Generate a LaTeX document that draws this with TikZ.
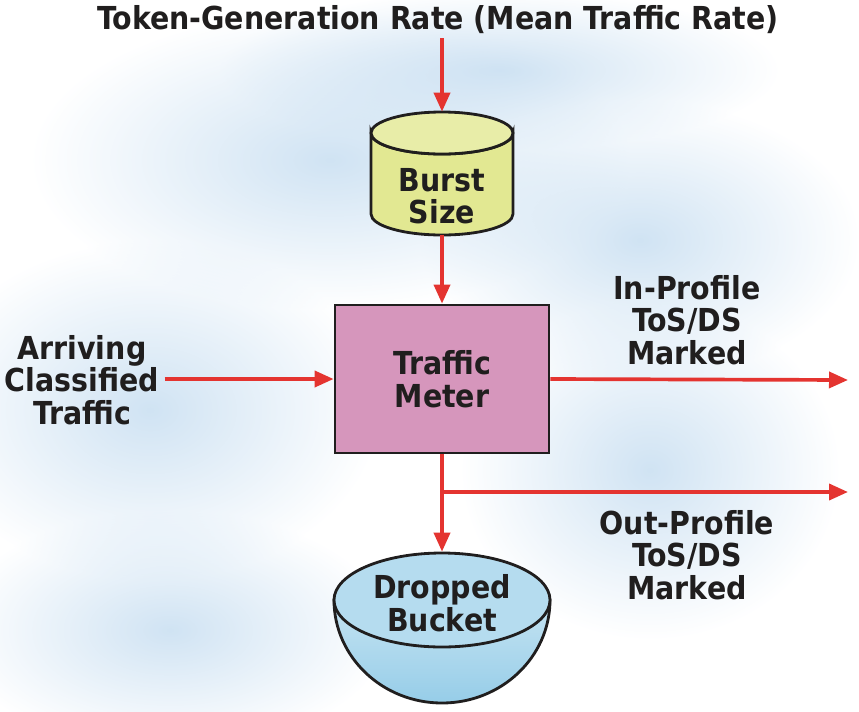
\documentclass[tikz,border=0pt]{standalone}
\usepackage{fontspec}
\setmainfont{DejaVu Sans Condensed}
\usetikzlibrary{arrows.meta, positioning, fadings}

\definecolor{flowred}{RGB}{228,52,48}
\definecolor{burstfill}{RGB}{226,232,146}
\definecolor{meterfill}{RGB}{214,150,188}
\definecolor{bucketfill}{RGB}{150,205,232}
\definecolor{haze}{RGB}{196,220,240}
\definecolor{ink}{RGB}{32,30,30}

\tikzfading[name=softblob, inner color=transparent!0, outer color=transparent!100]

\tikzset{
  flow/.style={draw=flowred, line width=2.1pt, -{Triangle[length=0.38cm, width=0.32cm]}},
  lbl/.style={font=\bfseries\fontsize{18}{18.5}\selectfont, align=center, text=ink, inner sep=0pt},
  outline/.style={draw=ink, line width=1.6pt},
  haziness/.style={fill=haze, opacity=0.8, path fading=softblob}
}

\begin{document}
\begin{tikzpicture}[x=0.02cm, y=0.02cm, yscale=-1]
  \useasboundingbox (0,0) rectangle (859,711);

  % cloudy backdrop
  \fill[haziness] (330,160) ellipse (300 and 150);
  \fill[haziness] (640,240) ellipse (220 and 140);
  \fill[haziness] (150,410) ellipse (230 and 170);
  \fill[haziness] (650,470) ellipse (190 and 170);
  \fill[haziness] (170,630) ellipse (220 and 120);
  \fill[haziness] (500,70) ellipse (280 and 80);

  % burst size bucket (cylinder)
  \filldraw[outline, fill=burstfill] (371,133) -- (371,214)
    arc[start angle=180, end angle=0, x radius=71, y radius=21] -- (513,133)
    arc[start angle=0, end angle=180, x radius=71, y radius=21] -- cycle;
  \filldraw[outline, fill=burstfill!80!white] (442,133) ellipse (71 and 21);
  \node[minimum width=2.84cm, minimum height=2.46cm, inner sep=0pt] (burst) at (442,173.5) {};
  \node[lbl] (burstlbl) at (442,196) {Burst\\Size};

  % dropped bucket (bowl)
  \filldraw[outline, top color=bucketfill!55!white, bottom color=bucketfill] (334,600)
    arc[start angle=180, end angle=0, x radius=108, y radius=103] -- cycle;
  \filldraw[outline, fill=bucketfill!70!white] (442,600) ellipse (108 and 47);
  \node[minimum width=4.32cm, minimum height=3.02cm, inner sep=0pt] (bucket) at (442,627.5) {};
  \node[lbl] (bucketlbl) at (442,603) {Dropped\\Bucket};

  % meter box
  \node[lbl, outline, fill=meterfill, minimum width=4.28cm, minimum height=2.96cm] (meter) at (442,379) {Traffic\\Meter};

  % texts
  \node[lbl] (rate) at (438,20) {Token-Generation Rate (Mean Traffic Rate)};
  \node[lbl] (arriving) at (82,380) {Arriving\\Classified\\Traffic};
  \node[lbl] (inprof) at (687,320) {In-Profile\\ToS/DS\\Marked};
  \node[lbl] (outprof) at (687,555) {Out-Profile\\ToS/DS\\Marked};

  \coordinate (inend) at (848,380);
  \coordinate (split) at (442,492);
  \coordinate (outend) at (848,492);

  % arrows
  \draw[flow] (burst.north |- rate.south) ++(0,4) -- (burst.north);
  \draw[flow] (burst.south) -- (meter.north);
  \draw[flow, shorten <=3pt] (arriving.east |- meter.west) -- (meter.west);
  \draw[flow] (meter.east) -- (inend);
  \draw[flow] (meter.south) -- (bucket.north);
  \draw[flow] (split) -- (outend);
\end{tikzpicture}
\end{document}
